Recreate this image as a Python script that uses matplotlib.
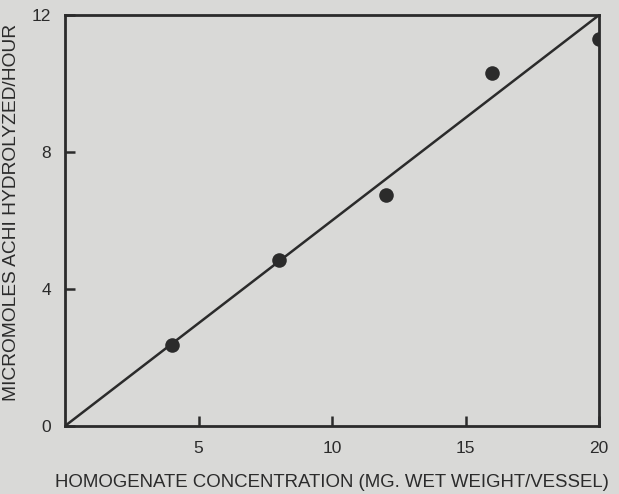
"""Enzyme activity vs. homogenate concentration (scanned figure recreation)."""
import matplotlib
matplotlib.use("Agg")
import matplotlib.pyplot as plt  # noqa: E402

# measured points
conc = [4, 8, 12, 16, 20]
activity = [2.35, 4.85, 6.75, 10.3, 11.3]

# fitted line drawn through origin
fit_x = [0, 20]
fit_y = [0, 12]

x_ticks = [5, 10, 15, 20]
y_ticks = [0, 4, 8, 12]

BG = "#d9d9d7"
INK = "#2b2b2b"

plt.rcParams["font.family"] = ["Liberation Sans", "DejaVu Sans"]

fig = plt.figure(figsize=(6.19, 4.94), dpi=100, facecolor=BG)
ax = fig.add_axes([0.105, 0.1377, 0.863, 0.832])
ax.set_facecolor(BG)

ax.plot(fit_x, fit_y, color=INK, lw=1.8, zorder=2)
ax.scatter(conc, activity, s=110, color=INK, zorder=3, linewidths=0)

ax.set_xlim(0, 20)
ax.set_ylim(0, 12)
ax.set_xticks(x_ticks)
ax.set_yticks(y_ticks)

for sp in ax.spines.values():
    sp.set_color(INK)
    sp.set_linewidth(2)
    sp.set_zorder(4)

ax.tick_params(axis="both", direction="in", length=7, width=1.8, color=INK,
               labelcolor=INK, labelsize=12.5)
ax.tick_params(axis="x", pad=11)
ax.tick_params(axis="y", pad=10)

ax.set_xlabel("HOMOGENATE CONCENTRATION (MG. WET WEIGHT/VESSEL)",
              fontsize=13.4, color=INK)
ax.xaxis.set_label_coords(0.5, -0.117)
ax.set_ylabel("MICROMOLES ACHI HYDROLYZED/HOUR", fontsize=13.8, color=INK)
ax.yaxis.set_label_coords(-0.084, 0.52)

fig.savefig("out.png", dpi=100, facecolor=BG)
